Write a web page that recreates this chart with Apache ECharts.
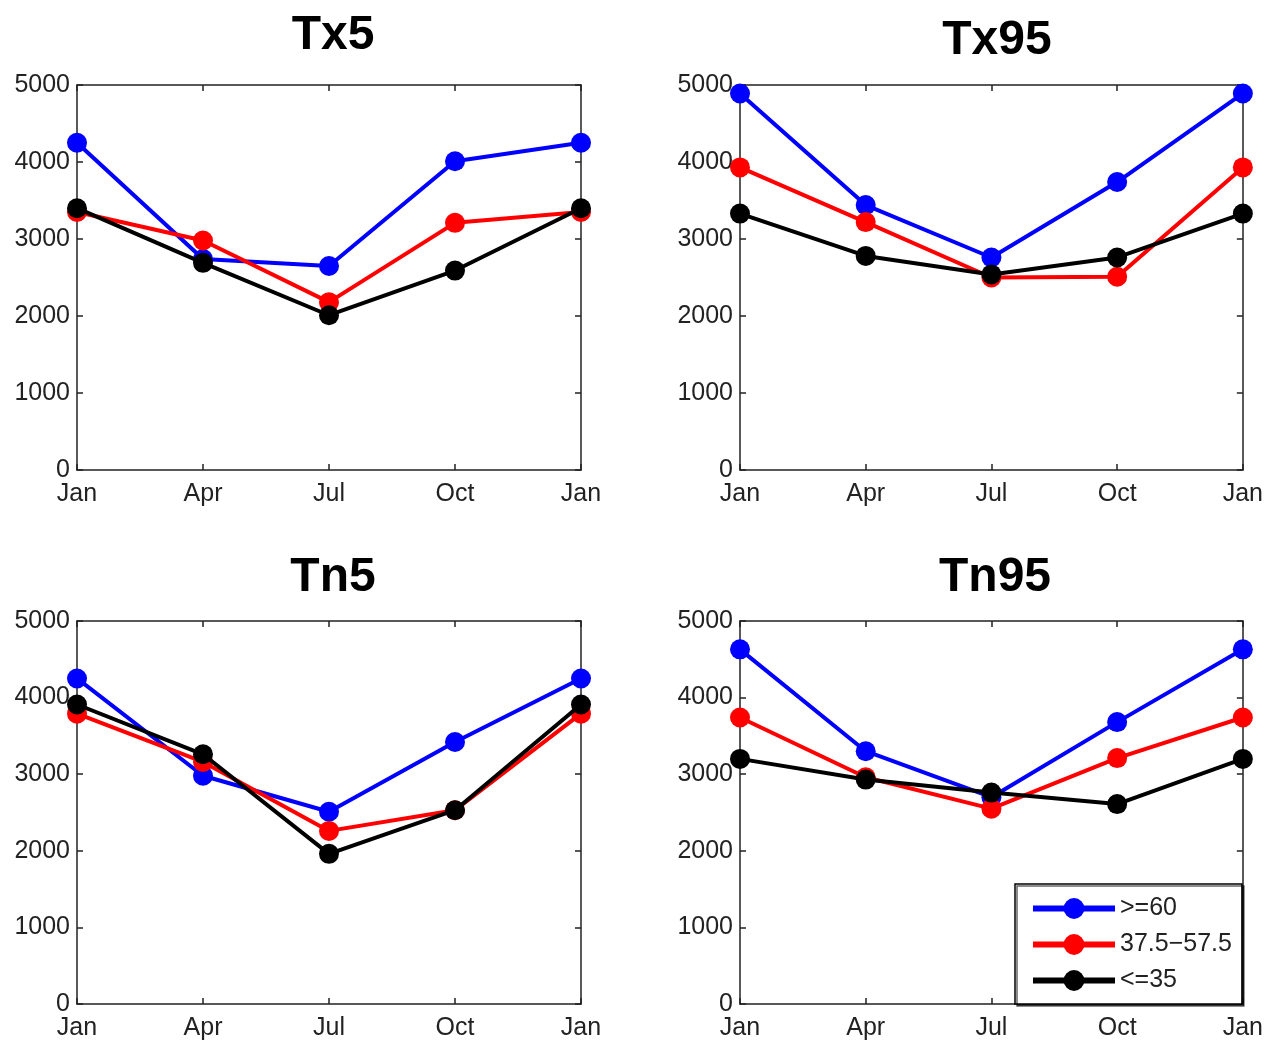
<!DOCTYPE html>
<html>
<head>
<meta charset="utf-8">
<script src="https://cdn.jsdelivr.net/npm/echarts@6/dist/echarts.min.js"></script>
<style>
html,body{margin:0;padding:0;background:#fff;}
#chart{width:1266px;height:1041px;}
</style>
</head>
<body>
<div id="chart"></div>
<script>
// ---- data ----
var months = ['Jan', 'Apr', 'Jul', 'Oct', 'Jan'];
var yTicks = [0, 1000, 2000, 3000, 4000, 5000];
var panelTitles = ['Tx5', 'Tx95', 'Tn5', 'Tn95'];
var groupNames = ['>=60', '37.5\u221257.5', '<=35'];
var groupColors = ['#0000ff', '#ff0000', '#000000'];

var tx5_ge60   = [4250, 2740, 2650, 4010, 4250];
var tx5_mid    = [3350, 2980, 2180, 3210, 3350];
var tx5_le35   = [3400, 2690, 2010, 2590, 3400];

var tx95_ge60  = [4890, 3440, 2760, 3740, 4890];
var tx95_mid   = [3930, 3220, 2500, 2510, 3930];
var tx95_le35  = [3330, 2780, 2540, 2760, 3330];

var tn5_ge60   = [4250, 2980, 2510, 3420, 4250];
var tn5_mid    = [3790, 3160, 2260, 2530, 3790];
var tn5_le35   = [3910, 3260, 1960, 2530, 3910];

var tn95_ge60  = [4630, 3300, 2700, 3680, 4630];
var tn95_mid   = [3740, 2960, 2550, 3210, 3740];
var tn95_le35  = [3200, 2930, 2760, 2610, 3200];

var panelData = [
  [tx5_ge60, tx5_mid, tx5_le35],
  [tx95_ge60, tx95_mid, tx95_le35],
  [tn5_ge60, tn5_mid, tn5_le35],
  [tn95_ge60, tn95_mid, tn95_le35]
];

// ---- layout ----
var FONT = 'Liberation Sans, Arial, sans-serif';
var grids = [
  {left: 77, top: 85, width: 504, height: 385},
  {left: 740, top: 85, width: 504, height: 385},
  {left: 77, top: 621, width: 504, height: 384},
  {left: 740, top: 621, width: 503, height: 384}
];
var titlePos = [
  {x: 328, y: 7},
  {x: 992, y: 12},
  {x: 328, y: 549},
  {x: 990, y: 549}
];

var axisLineStyle = {color: '#222', width: 1.5};
var option = {
  animation: false,
  backgroundColor: '#fff',
  title: [],
  grid: [],
  xAxis: [],
  yAxis: [],
  series: [],
  legend: {
    left: 1015, top: 884,
    orient: 'vertical',
    data: groupNames,
    itemWidth: 82, itemHeight: 26, itemGap: 11,
    padding: [12, 10, 11, 15],
    backgroundColor: '#fff',
    borderColor: '#000', borderWidth: 1.5,
    shadowColor: 'rgba(0,0,0,0.6)', shadowOffsetX: 2, shadowOffsetY: 2, shadowBlur: 0,
    lineStyle: {width: 6},
    textStyle: {fontFamily: FONT, fontSize: 25, color: '#222'},
    selectedMode: false
  }
};

for (var g = 0; g < 4; g++) {
  option.title.push({
    text: panelTitles[g], left: titlePos[g].x, top: titlePos[g].y, textAlign: 'center',
    textStyle: {fontFamily: FONT, fontSize: 48, fontWeight: 'bold', color: '#000'}
  });
  option.grid.push(grids[g]);
  option.xAxis.push({
    type: 'category', gridIndex: g, data: months, boundaryGap: false, position: 'bottom',
    axisLine: {show: true, onZero: false, lineStyle: axisLineStyle},
    axisTick: {show: true, inside: true, length: 6, lineStyle: axisLineStyle},
    axisLabel: {fontFamily: FONT, fontSize: 25, color: '#222', margin: 12, interval: 0},
    splitLine: {show: false}
  });
  option.xAxis.push({
    type: 'category', gridIndex: g, data: months, boundaryGap: false, position: 'top',
    axisLine: {show: true, onZero: false, lineStyle: axisLineStyle},
    axisTick: {show: true, inside: true, length: 6, lineStyle: axisLineStyle, interval: 0},
    axisLabel: {show: false},
    splitLine: {show: false}
  });
  option.yAxis.push({
    type: 'value', gridIndex: g, min: 0, max: 5000, interval: 1000, position: 'left',
    axisLine: {show: true, onZero: false, lineStyle: axisLineStyle},
    axisTick: {show: true, inside: true, length: 6, lineStyle: axisLineStyle},
    axisLabel: {fontFamily: FONT, fontSize: 25, color: '#222', margin: 7,
      formatter: function (v) { return String(v); }},
    splitLine: {show: false}
  });
  option.yAxis.push({
    type: 'value', gridIndex: g, min: 0, max: 5000, interval: 1000, position: 'right',
    axisLine: {show: true, onZero: false, lineStyle: axisLineStyle},
    axisTick: {show: true, inside: true, length: 6, lineStyle: axisLineStyle},
    axisLabel: {show: false},
    splitLine: {show: false}
  });
  for (var s = 0; s < 3; s++) {
    option.series.push({
      type: 'line', name: groupNames[s],
      xAxisIndex: 2 * g, yAxisIndex: 2 * g,
      data: panelData[g][s],
      symbol: 'circle', symbolSize: 20, showSymbol: true,
      lineStyle: {color: groupColors[s], width: 4},
      itemStyle: {color: groupColors[s]},
      z: 2 + s
    });
  }
}

var chart = echarts.init(document.getElementById('chart'), null, {renderer: 'canvas'});
chart.setOption(option);
</script>
</body>
</html>
